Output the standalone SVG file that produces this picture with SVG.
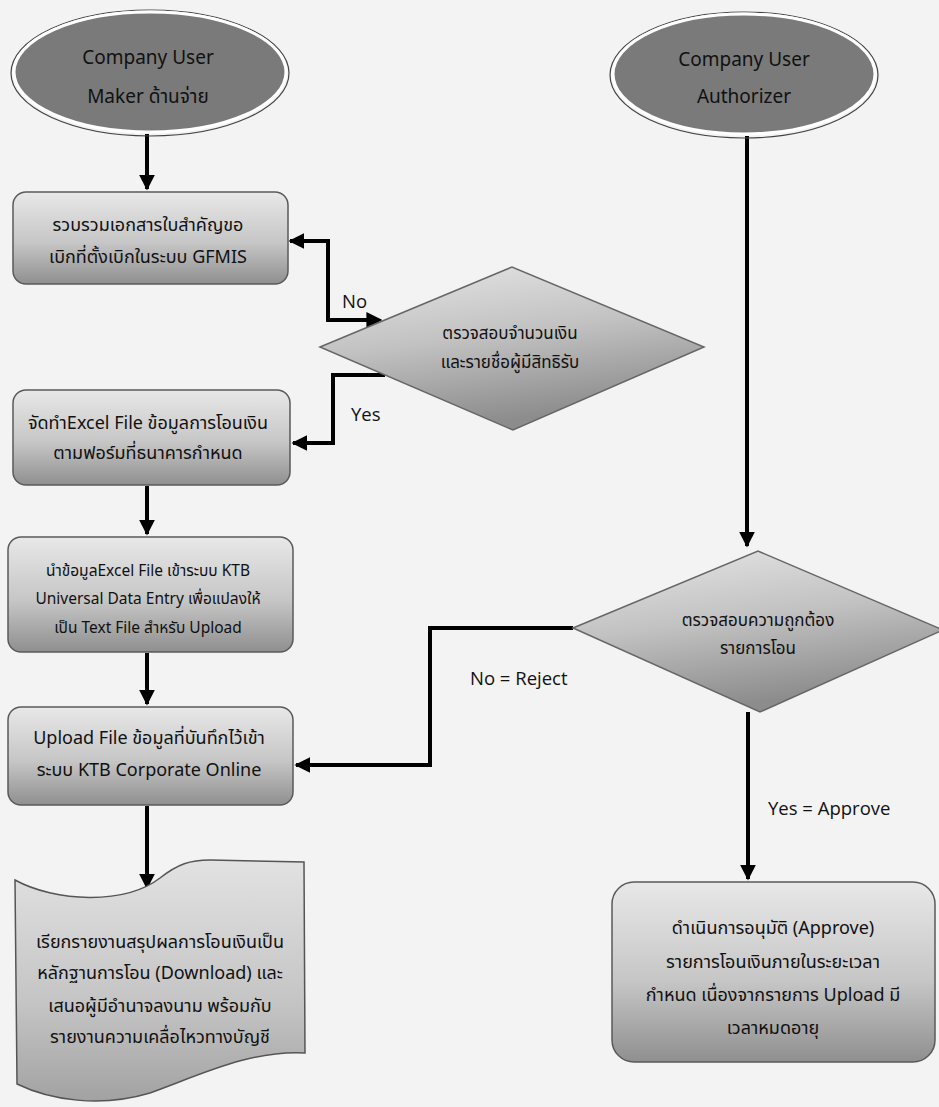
<svg xmlns="http://www.w3.org/2000/svg" width="939" height="1107" viewBox="0 0 939 1107">
<defs>
<style>
.t{font-family:"Noto Sans","Noto Sans Thai","Liberation Sans",sans-serif;font-size:18px;fill:#111;text-anchor:middle}
.s15{font-size:15.5px}
.s17{font-size:17px}
.e{font-size:19px}
.lbl{font-family:"Open Sans","Noto Sans","Liberation Sans",sans-serif;font-size:18.5px;fill:#111}
.box{fill:url(#gBox);stroke:#5a5a5a;stroke-width:1.5}
.dia{fill:url(#gDia);stroke:#666;stroke-width:1.5}
.ell{fill:#7a7a7a;stroke:#fff;stroke-width:3}
.ello{fill:none;stroke:#444;stroke-width:1.2}
.c{fill:none;stroke:#000;stroke-width:4}
</style>
<linearGradient id="gBox" x1="0" y1="0" x2="0" y2="1">
<stop offset="0" stop-color="#e8e8e8"/>
<stop offset="0.55" stop-color="#c6c6c6"/>
<stop offset="1" stop-color="#8f8f8f"/>
</linearGradient>
<linearGradient id="gDia" x1="0" y1="0" x2="0.3" y2="1">
<stop offset="0" stop-color="#e6e6e6"/>
<stop offset="0.5" stop-color="#c2c2c2"/>
<stop offset="1" stop-color="#8c8c8c"/>
</linearGradient>
<linearGradient id="gDoc" x1="0" y1="0" x2="0" y2="1">
<stop offset="0" stop-color="#e2e2e2"/>
<stop offset="0.6" stop-color="#c4c4c4"/>
<stop offset="1" stop-color="#a2a2a2"/>
</linearGradient>
<marker id="ah" viewBox="0 0 10 10" refX="9" refY="5" markerWidth="4" markerHeight="4" orient="auto" markerUnits="strokeWidth">
<path d="M0,0 L10,5 L0,10 Z" fill="#000"/>
</marker>
<marker id="as" viewBox="0 0 10 10" refX="1" refY="5" markerWidth="4" markerHeight="4" orient="auto-start-reverse" markerUnits="strokeWidth">
<path d="M0,0 L10,5 L0,10 Z" fill="#000"/>
</marker>
</defs>
<rect x="0" y="0" width="939" height="1107" fill="#f3f3f3"/>

<g id="connectors">
<path class="c" d="M147,134 V189" marker-end="url(#ah)"/>
<path class="c" d="M368,320 H328 V241 H290" marker-end="url(#ah)" marker-start="url(#as)"/>
<path class="c" d="M385,375 H333 V443 H293" marker-end="url(#ah)"/>
<path class="c" d="M147,486 V534" marker-end="url(#ah)"/>
<path class="c" d="M147,653 V704" marker-end="url(#ah)"/>
<path class="c" d="M147,806 V888" marker-end="url(#ah)"/>
<path class="c" d="M747,136 V546" marker-end="url(#ah)"/>
<path class="c" d="M573,628 H430 V765 H296" marker-end="url(#ah)"/>
<path class="c" d="M748,712 V879" marker-end="url(#ah)"/>
<text class="lbl" x="342" y="308">No</text>
<text class="lbl" x="351" y="421">Yes</text>
<text class="lbl" x="470" y="685">No = Reject</text>
<text class="lbl" x="768" y="815">Yes = Approve</text>
</g>

<g id="start-maker">
<ellipse class="ello" cx="150" cy="73" rx="139" ry="63"/>
<ellipse class="ell" cx="150" cy="72" rx="136" ry="60"/>
<text class="t e" x="148" y="64">Company User</text>
<text class="t e" x="148" y="103">Maker ด้านจ่าย</text>
</g>

<g id="start-authorizer">
<ellipse class="ello" cx="744" cy="75" rx="134" ry="63"/>
<ellipse class="ell" cx="744" cy="74" rx="131" ry="60"/>
<text class="t e" x="744" y="66">Company User</text>
<text class="t e" x="744" y="103">Authorizer</text>
</g>

<g id="collect">
<rect class="box" x="13" y="192" width="275" height="92" rx="13"/>
<text class="t" x="148" y="231">รวบรวมเอกสารใบสำคัญขอ</text>
<text class="t" x="148" y="263">เบิกที่ตั้งเบิกในระบบ GFMIS</text>
</g>

<g id="check-amount">
<polygon class="dia" points="320,347 512,267 704,347 513,430"/>
<text class="t s17" x="510" y="339">ตรวจสอบจำนวนเงิน</text>
<text class="t s17" x="510" y="368">และรายชื่อผู้มีสิทธิรับ</text>
</g>

<g id="excel">
<rect class="box" x="13" y="390" width="277" height="95" rx="13"/>
<text class="t" x="148" y="429">จัดทำExcel File ข้อมูลการโอนเงิน</text>
<text class="t" x="148" y="459">ตามฟอร์มที่ธนาคารกำหนด</text>
</g>

<g id="convert">
<rect class="box" x="8" y="537" width="285" height="115" rx="13"/>
<text class="t s15" x="148" y="576">นำข้อมูลExcel File เข้าระบบ KTB</text>
<text class="t s15" x="148" y="604">Universal Data Entry เพื่อแปลงให้</text>
<text class="t s15" x="148" y="633">เป็น Text File สำหรับ Upload</text>
</g>

<g id="upload">
<rect class="box" x="8" y="707" width="285" height="98" rx="13"/>
<text class="t" x="149" y="744">Upload File ข้อมูลที่บันทึกไว้เข้า</text>
<text class="t" x="149" y="776">ระบบ KTB Corporate Online</text>
</g>

<g id="report">
<path d="M15,880 C55,902 125,905 160,878 C178,864 190,860 210,860 L304,862 L305,1053 C250,1050 200,1075 150,1093 C100,1108 50,1100 17,1084 Z" fill="url(#gDoc)" stroke="#555" stroke-width="1.5"/>
<text class="t" x="160" y="948">เรียกรายงานสรุปผลการโอนเงินเป็น</text>
<text class="t" x="160" y="979">หลักฐานการโอน (Download) และ</text>
<text class="t" x="160" y="1012">เสนอผู้มีอำนาจลงนาม พร้อมกับ</text>
<text class="t" x="160" y="1043">รายงานความเคลื่อไหวทางบัญชี</text>
</g>

<g id="check-transfer">
<polygon class="dia" points="573,628 758,551 943,630 760,712"/>
<text class="t s17" x="758" y="626">ตรวจสอบความถูกต้อง</text>
<text class="t s17" x="758" y="654">รายการโอน</text>
</g>

<g id="approve">
<rect class="box" x="612" y="882" width="323" height="180" rx="22"/>
<text class="t" x="773" y="934">ดำเนินการอนุมัติ (Approve)</text>
<text class="t" x="773" y="968">รายการโอนเงินภายในระยะเวลา</text>
<text class="t" x="773" y="1001">กำหนด เนื่องจากรายการ Upload มี</text>
<text class="t" x="773" y="1034">เวลาหมดอายุ</text>
</g>
</svg>
